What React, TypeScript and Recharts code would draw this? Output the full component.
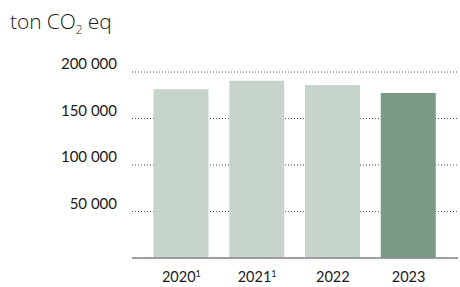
import React from 'react';
import { BarChart, Bar, XAxis, YAxis, CartesianGrid, Cell } from 'recharts';

const categories = ['2020', '2021', '2022', '2023'];
const footnotes = ['1', '1', '', ''];
const emissions = [181500, 190500, 186000, 177500];
const yTicks = [50000, 100000, 150000, 200000];
const yTickLabels = ['50 000', '100 000', '150 000', '200 000'];
const barColors = ['#c6d4cb', '#c6d4cb', '#c6d4cb', '#789a86'];

const data = categories.map((c, i) => ({ year: c, note: footnotes[i], value: emissions[i] }));

const YTick = (props: any) => {
  const idx = yTicks.indexOf(props.payload.value);
  if (idx < 0) return null;
  return (
    <text x={117} y={props.y - 3} textAnchor="end" fontFamily="Lato" fontSize={15} fill="#1a1a1a">
      {yTickLabels[idx]}
    </text>
  );
};

const XTick = (props: any) => {
  const i = categories.indexOf(props.payload.value);
  return (
    <text x={props.x} y={props.y + 16} textAnchor="middle" fontFamily="Lato" fontSize={14.5} fill="#1a1a1a">
      {props.payload.value}
      {footnotes[i] ? (
        <tspan fontSize={9} dy={-5}>{footnotes[i]}</tspan>
      ) : null}
    </text>
  );
};

export default function App() {
  return (
    <div style={{ position: 'absolute', left: 0, top: 0, width: 460, height: 287, background: '#fff' }}>
      <div
        style={{
          position: 'absolute',
          left: 10,
          top: 9,
          fontFamily: 'Open Sans',
          fontWeight: 300,
          fontSize: 21,
          letterSpacing: -0.1,
          color: '#1a1a1a',
          lineHeight: '24px',
          whiteSpace: 'nowrap',
        }}
      >
        ton CO<sub style={{ fontSize: 12, verticalAlign: -5 }}>2</sub> eq
      </div>
      <BarChart
        width={460}
        height={287}
        data={data}
        margin={{ top: 72, right: 2, bottom: 0, left: 0 }}
        barCategoryGap={10.5}
      >
        <CartesianGrid vertical={false} stroke="#555" strokeDasharray="1 2" />
        <XAxis
          dataKey="year"
          height={29}
          axisLine={{ stroke: '#888', strokeWidth: 1.5 }}
          tickLine={false}
          padding={{ left: 11.5, right: 11.5 }}
          tick={<XTick />}
          interval={0}
        />
        <YAxis
          width={132}
          domain={[0, 200000]}
          ticks={yTicks}
          axisLine={false}
          tickLine={false}
          tick={<YTick />}
          interval={0}
        />
        <Bar dataKey="value" barSize={55} isAnimationActive={false}>
          {data.map((d, i) => (
            <Cell key={d.year} fill={barColors[i]} />
          ))}
        </Bar>
      </BarChart>
    </div>
  );
}
